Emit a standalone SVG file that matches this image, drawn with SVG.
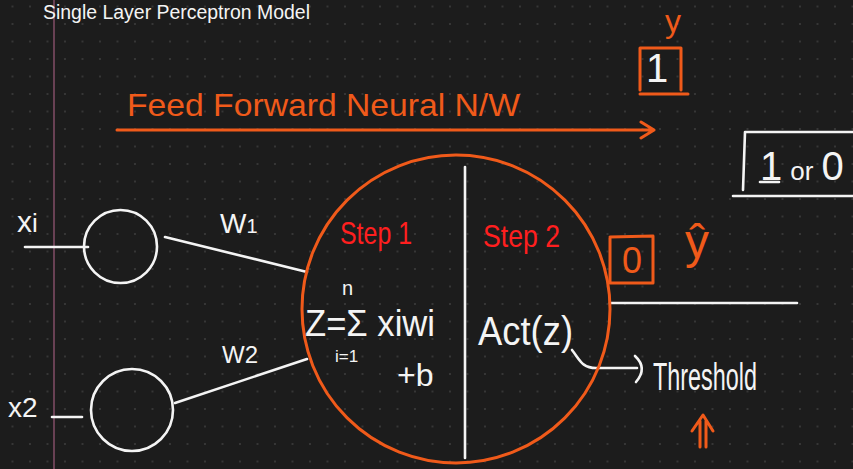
<svg xmlns="http://www.w3.org/2000/svg" width="853" height="469" viewBox="0 0 853 469">
<defs>
<pattern id="dots" patternUnits="userSpaceOnUse" x="3.75" y="-2.25" width="17.5" height="17.5">
<circle cx="8.75" cy="8.75" r="1" fill="#3e3e3e"/>
</pattern>
<style>
text{font-family:"Liberation Sans","DejaVu Sans",sans-serif;}
.w{fill:#f4f4f4;}
.o{fill:#f05a1a;}
.r{fill:#ff1f1f;}
.ws{stroke:#f4f4f4;stroke-width:2.6;fill:none;stroke-linecap:round;stroke-linejoin:round;}
.os{stroke:#f05a1a;stroke-width:3;fill:none;stroke-linecap:round;stroke-linejoin:round;}
</style>
</defs>
<rect width="853" height="469" fill="#1c1c1c"/>
<rect width="853" height="469" fill="url(#dots)"/>
<line x1="54" y1="0" x2="54" y2="469" stroke="#9c5a7a" stroke-width="1.2"/>

<g id="title">
<text class="w" x="43" y="19" font-size="20" textLength="267" lengthAdjust="spacingAndGlyphs">Single Layer Perceptron Model</text>
</g>

<g id="feed-forward">
<text class="o" x="127" y="116" font-size="32" textLength="393" lengthAdjust="spacingAndGlyphs">Feed Forward Neural N/W</text>
<path class="os" d="M117,130 L654,130 M641,122 L654,130 L641,138"/>
</g>

<g id="target-y">
<text class="o" x="673" y="32" font-size="32" text-anchor="middle">y</text>
<path class="os" d="M640,90 L640,48 L681,48 L681,90 M640,94 L688,94"/>
<text class="w" x="657" y="82" font-size="40" text-anchor="middle">1</text>
</g>

<g id="output-note">
<path class="ws" d="M743,190 L745,132 L853,132 M733,196 L853,196"/>
<text class="w" x="760" y="180" font-size="40">1<tspan font-size="26" dx="8">or</tspan><tspan dx="8" font-size="40">0</tspan></text>
<line class="ws" x1="760" y1="182" x2="779" y2="182"/>
</g>

<g id="connectors">
<path class="ws" d="M25,247 L88,247"/>
<path class="ws" d="M52,417 L82,417"/>
<path class="ws" d="M165,237 L307,272"/>
<path class="ws" d="M175,403 L307,359"/>
<path class="ws" d="M610,303 L797,303"/>
<path class="ws" d="M572,350 C580,360 582,368 596,368 L637,368 M635,356 Q648,368 636,382"/>
</g>

<g id="input-x1">
<text class="w" x="17" y="232" font-size="30">x<tspan font-size="26">i</tspan></text>
<circle class="ws" cx="120.5" cy="246.5" r="36.5"/>
</g>

<g id="input-x2">
<text class="w" x="8" y="417" font-size="28">x2</text>
<circle class="ws" cx="132" cy="410" r="41"/>
</g>

<g id="weights">
<text class="w" x="220" y="233" font-size="28">W<tspan font-size="20">1</tspan></text>
<text class="w" x="222" y="363" font-size="24">W2</text>
</g>

<g id="neuron">
<circle class="os" cx="456" cy="309" r="154"/>
<line class="ws" x1="465" y1="167" x2="465" y2="458"/>
<text class="r" x="340" y="244" font-size="32" textLength="72" lengthAdjust="spacingAndGlyphs">Step 1</text>
<text class="r" x="483" y="247" font-size="32" textLength="77" lengthAdjust="spacingAndGlyphs">Step 2</text>
<text class="w" x="342" y="295" font-size="20">n</text>
<text class="w" x="305" y="336" font-size="36" textLength="130" lengthAdjust="spacingAndGlyphs">Z=Σ xiwi</text>
<text class="w" x="335" y="362" font-size="17">i=1</text>
<text class="w" x="397" y="386" font-size="32">+b</text>
<text class="w" x="478" y="345" font-size="40" textLength="95" lengthAdjust="spacingAndGlyphs">Act(z)</text>
</g>

<g id="prediction">
<path class="os" d="M610,238 L610,282 M610,237 L653,236 L653,283 L610,283"/>
<text class="o" x="632" y="273" font-size="36" text-anchor="middle">0</text>
<text class="o" x="697" y="258" font-size="48" text-anchor="middle">ŷ</text>
</g>

<g id="threshold">
<text class="w" x="653" y="390" font-size="38" textLength="104" lengthAdjust="spacingAndGlyphs">Threshold</text>
<path class="os" d="M700,447 L700,421 M706,447 L706,421 M692,431 L703,415 L713,431"/>
</g>
</svg>
